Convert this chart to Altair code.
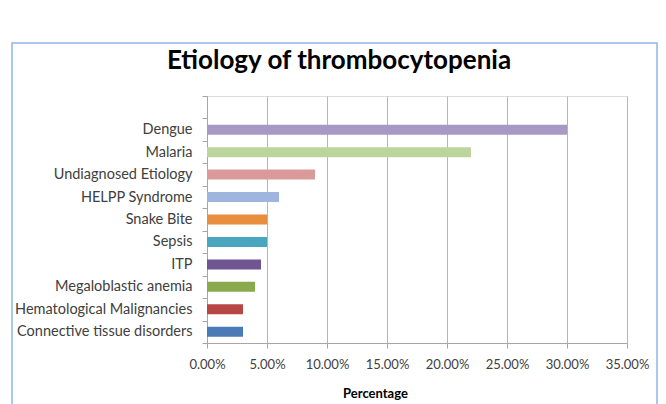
import altair as alt
import pandas as pd

# Causes of thrombocytopenia and their share of cases (fraction of total)
causes = [
    "Dengue",
    "Malaria",
    "Undiagnosed Etiology",
    "HELPP Syndrome",
    "Snake Bite",
    "Sepsis",
    "ITP",
    "Megaloblastic anemia",
    "Hematological Malignancies",
    "Connective tissue disorders",
]
shares = [0.30, 0.22, 0.09, 0.06, 0.05, 0.05, 0.045, 0.04, 0.03, 0.03]
colors = [
    "#a699c4", "#bcd59c", "#d99a99", "#9fb5dd", "#e98d3e",
    "#4aa6bf", "#6f5592", "#8aa94c", "#b84744", "#4a7bb7",
]
x_ticks = [0, 0.05, 0.10, 0.15, 0.20, 0.25, 0.30, 0.35]
chart_title = "Etiology of thrombocytopenia"

df = pd.DataFrame({"cause": causes, "share": shares, "color": colors})

FONT = "Lato"
W, H = 420, 247
# plot origin inside the page
OX, OY = 207, 96

bars = alt.Chart(df).mark_bar(size=10).encode(
    x=alt.X(
        "share:Q",
        scale=alt.Scale(domain=[0, 0.35], nice=False),
        axis=alt.Axis(
            values=x_ticks,
            format=".2%",
            title="Percentage",
            titleFont=FONT,
            titleFontSize=13,
            titleFontWeight="bold",
            titleColor="#000000",
            titleX=168,
            titleY=50,
            titleAlign="center",
            titleBaseline="middle",
            labelFont=FONT,
            labelFontSize=13,
            labelColor="#404040",
            labelPadding=10,
            labelFlush=False,
            labelOverlap=False,
            grid=True,
            gridColor="#b5b5b5",
            domainColor="#a6a6a6",
            tickColor="#a6a6a6",
            tickSize=5,
        ),
    ),
    y=alt.Y(
        "cause:N",
        # an empty slot above the first category leaves headroom in the plot
        scale=alt.Scale(domain=[" "] + causes, paddingInner=0, paddingOuter=0),
        title=None,
        axis=alt.Axis(
            labelFont=FONT,
            labelFontSize=14.5,
            labelColor="#404040",
            labelPadding=10,
            labelLimit=300,
            tickBand="extent",
            tickSize=5,
            tickColor="#a6a6a6",
            domainColor="#a6a6a6",
        ),
    ),
    color=alt.Color("color:N", scale=None, legend=None),
)

one = pd.DataFrame({"t": [chart_title]})

# Light blue frame around the whole chart area
frame = alt.Chart(one).mark_rect(
    fill=None, stroke="#8fb6e6", strokeWidth=1.5, clip=False
).encode(
    x=alt.value(12 - OX),
    x2=alt.value(657 - OX),
    y=alt.value(43 - OY),
    y2=alt.value(420 - OY),
)

title = alt.Chart(one).mark_text(
    font=FONT, fontSize=26, fontWeight="bold", color="#000000",
    align="center", baseline="middle",
).encode(
    text="t:N",
    x=alt.value(339 - OX),
    y=alt.value(61 - OY),
)

chart = alt.layer(frame, bars, title).properties(
    width=W,
    height=H,
    autosize=alt.AutoSizeParams(type="none"),
    padding={"left": OX, "top": OY, "right": 666 - OX - W, "bottom": 404 - OY - H},
).configure_view(stroke=None).configure(background="#ffffff")

chart.save("out.html", embed_options={"renderer": "svg", "actions": False})
